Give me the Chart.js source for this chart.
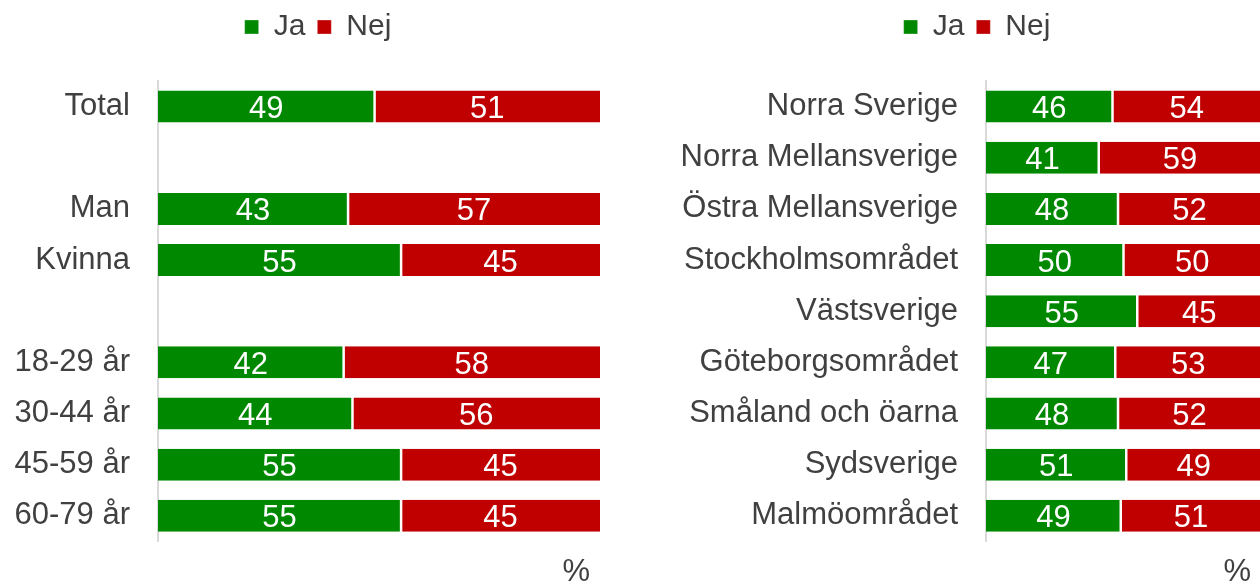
<!DOCTYPE html>
<html><head><meta charset="utf-8">
<script src="https://cdn.jsdelivr.net/npm/chart.js@4/dist/chart.umd.min.js"></script>
<style>
html,body{margin:0;padding:0;background:#fff;overflow:hidden;width:1260px;height:588px;position:relative;}
canvas{position:absolute;top:0;}
</style></head><body>
<canvas id="c1" width="636" height="588" style="left:0"></canvas>
<canvas id="c2" width="634" height="588" style="left:660px"></canvas>
<script>
const seriesNames = ['Ja', 'Nej'];
const seriesColors = ['#008800', '#C00000'];
const leftCategories = ['Total', '', 'Man', 'Kvinna', '', '18-29 år', '30-44 år', '45-59 år', '60-79 år'];
const leftJa  = [49, null, 43, 55, null, 42, 44, 55, 55];
const leftNej = [51, null, 57, 45, null, 58, 56, 45, 45];
const rightCategories = ['Norra Sverige', 'Norra Mellansverige', 'Östra Mellansverige', 'Stockholmsområdet', 'Västsverige', 'Göteborgsområdet', 'Småland och öarna', 'Sydsverige', 'Malmöområdet'];
const rightJa  = [46, 41, 48, 50, 55, 47, 48, 51, 49];
const rightNej = [54, 59, 52, 50, 45, 53, 52, 49, 51];
const axisUnit = '%';

const FONT = '"Liberation Sans", Arial, sans-serif';
const TEXT = '#404040';
Chart.defaults.font.family = FONT;

const barValueLabels = {
  id: 'barValueLabels',
  afterDatasetsDraw(chart) {
    const ctx = chart.ctx;
    ctx.save();
    ctx.font = '31px ' + FONT;
    ctx.fillStyle = '#ffffff';
    ctx.textAlign = 'center';
    ctx.textBaseline = 'middle';
    chart.data.datasets.forEach((ds, i) => {
      const meta = chart.getDatasetMeta(i);
      meta.data.forEach((el, j) => {
        const v = ds.data[j];
        if (v == null) return;
        ctx.fillText(String(v), (el.x + el.base) / 2, el.y + 3);
      });
    });
    ctx.restore();
  }
};

const legendGap = {
  id: 'legendGap',
  beforeInit(chart) {
    const orig = chart.legend.fit;
    chart.legend.fit = function () { orig.call(this); this.height += 29; };
  }
};

const unitLabel = {
  id: 'unitLabel',
  afterDraw(chart) {
    const { ctx, chartArea } = chart;
    ctx.save();
    ctx.font = '31px ' + FONT;
    ctx.fillStyle = TEXT;
    ctx.textAlign = 'right';
    ctx.textBaseline = 'middle';
    ctx.fillText(axisUnit, chartArea.right - 10, chartArea.bottom + 31);
    ctx.restore();
  }
};

function makeChart(id, categories, ja, nej, yWidth, rightPad) {
  return new Chart(document.getElementById(id), {
    type: 'bar',
    data: {
      labels: categories,
      datasets: [
        { label: seriesNames[0], data: ja, backgroundColor: seriesColors[0], borderColor: '#ffffff',
          borderWidth: { left: 0, right: 1.25, top: 0, bottom: 0 }, borderSkipped: false, xAxisID: 'x', yAxisID: 'y' },
        { label: seriesNames[1], data: nej, backgroundColor: seriesColors[1], borderColor: '#ffffff',
          borderWidth: { left: 1.25, right: 0, top: 0, bottom: 0 }, borderSkipped: false, xAxisID: 'x', yAxisID: 'y' }
      ]
    },
    options: {
      indexAxis: 'y',
      responsive: false,
      animation: false,
      devicePixelRatio: 1,
      layout: { padding: { top: 0, bottom: 46, left: 0, right: 0 } },
      categoryPercentage: 1,
      barPercentage: 0.625,
      plugins: {
        legend: {
          position: 'top', align: 'center',
          labels: { color: TEXT, font: { size: 30 }, boxWidth: 14, boxHeight: 14, padding: 12 }
        },
        tooltip: { enabled: false }
      },
      scales: {
        x: { stacked: true, min: 0, max: 100, display: false },
        y: {
          stacked: true,
          grid: { display: false, drawTicks: false },
          border: { display: true, color: '#d9d9d9', width: 2 },
          ticks: { color: TEXT, font: { size: 31 }, padding: 28 },
          afterFit(s) { s.width = yWidth; }
        },
        yPad: {
          type: 'linear', position: 'right', display: true,
          grid: { display: false, drawTicks: false },
          border: { display: false },
          ticks: { display: false },
          afterFit(s) { s.width = rightPad; }
        }
      }
    },
    plugins: [legendGap, barValueLabels, unitLabel]
  });
}

makeChart('c1', leftCategories, leftJa, leftNej, 158, 36);
makeChart('c2', rightCategories, rightJa, rightNej, 326, 33);
</script>
</body></html>
